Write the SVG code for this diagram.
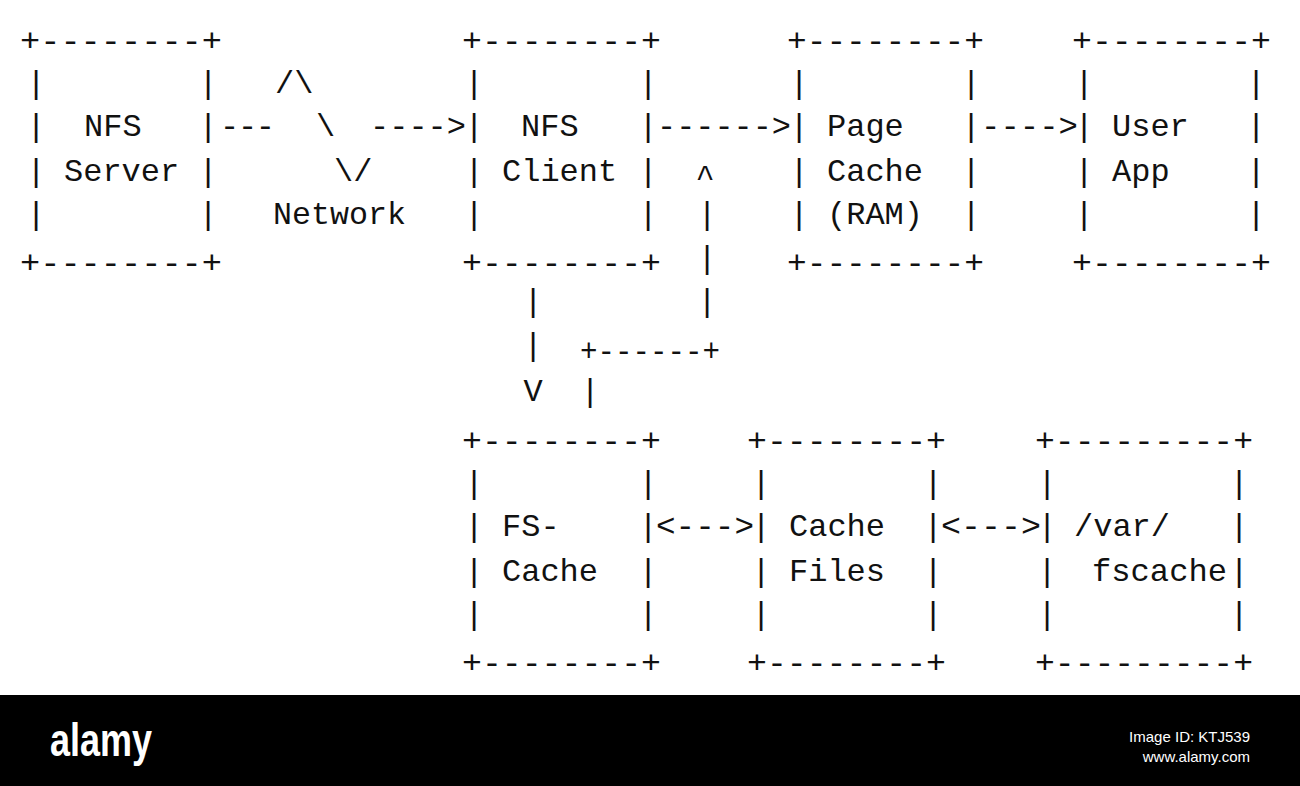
<svg xmlns="http://www.w3.org/2000/svg" width="1300" height="786" viewBox="0 0 1300 786">
<style>
text{font-family:"Liberation Mono","DejaVu Sans Mono",monospace;font-size:32px;fill:#111}
.c{text-anchor:middle}
.w{fill:#fff;font-family:"Liberation Sans",Arial,sans-serif}
</style>
<rect width="1300" height="786" fill="#fff"/>
<g id="nfs-server">
<text x="20" y="51" textLength="202" lengthAdjust="spacingAndGlyphs">+--------+</text>
<text x="20" y="273" textLength="202" lengthAdjust="spacingAndGlyphs">+--------+</text>
<text class="c" x="36" y="93">|</text><text class="c" x="36" y="136">|</text><text class="c" x="36" y="181">|</text><text class="c" x="36" y="224">|</text>
<text class="c" x="208" y="93">|</text><text class="c" x="208" y="136">|</text><text class="c" x="208" y="181">|</text><text class="c" x="208" y="224">|</text>
<text x="84" y="136">NFS</text><text x="64" y="181">Server</text>
</g>
<g id="nfs-client">
<text x="462" y="51" textLength="199" lengthAdjust="spacingAndGlyphs">+--------+</text>
<text x="462" y="273" textLength="199" lengthAdjust="spacingAndGlyphs">+--------+</text>
<text class="c" x="474" y="93">|</text><text class="c" x="474" y="136">|</text><text class="c" x="474" y="181">|</text><text class="c" x="474" y="224">|</text>
<text class="c" x="648" y="93">|</text><text class="c" x="648" y="136">|</text><text class="c" x="648" y="181">|</text><text class="c" x="648" y="224">|</text>
<text x="521" y="136">NFS</text><text x="502" y="181">Client</text>
</g>
<g id="page-cache">
<text x="787" y="51" textLength="197" lengthAdjust="spacingAndGlyphs">+--------+</text>
<text x="787" y="273" textLength="197" lengthAdjust="spacingAndGlyphs">+--------+</text>
<text class="c" x="799" y="93">|</text><text class="c" x="799" y="136">|</text><text class="c" x="799" y="181">|</text><text class="c" x="799" y="224">|</text>
<text class="c" x="971" y="93">|</text><text class="c" x="971" y="136">|</text><text class="c" x="971" y="181">|</text><text class="c" x="971" y="224">|</text>
<text x="827" y="136">Page</text><text x="827" y="181">Cache</text><text x="827" y="224">(RAM)</text>
</g>
<g id="user-app">
<text x="1072" y="51" textLength="199" lengthAdjust="spacingAndGlyphs">+--------+</text>
<text x="1072" y="273" textLength="199" lengthAdjust="spacingAndGlyphs">+--------+</text>
<text class="c" x="1084" y="93">|</text><text class="c" x="1084" y="136">|</text><text class="c" x="1084" y="181">|</text><text class="c" x="1084" y="224">|</text>
<text class="c" x="1256" y="93">|</text><text class="c" x="1256" y="136">|</text><text class="c" x="1256" y="181">|</text><text class="c" x="1256" y="224">|</text>
<text x="1112" y="136">User</text><text x="1112" y="181">App</text>
</g>
<g id="fs-cache">
<text x="462" y="451" textLength="199" lengthAdjust="spacingAndGlyphs">+--------+</text>
<text x="462" y="673" textLength="199" lengthAdjust="spacingAndGlyphs">+--------+</text>
<text class="c" x="474" y="493">|</text><text class="c" x="474" y="536">|</text><text class="c" x="474" y="581">|</text><text class="c" x="474" y="624">|</text>
<text class="c" x="648" y="493">|</text><text class="c" x="648" y="536">|</text><text class="c" x="648" y="581">|</text><text class="c" x="648" y="624">|</text>
<text x="502" y="536">FS-</text><text x="502" y="581">Cache</text>
</g>
<g id="cache-files">
<text x="747" y="451" textLength="199" lengthAdjust="spacingAndGlyphs">+--------+</text>
<text x="747" y="673" textLength="199" lengthAdjust="spacingAndGlyphs">+--------+</text>
<text class="c" x="761" y="493">|</text><text class="c" x="761" y="536">|</text><text class="c" x="761" y="581">|</text><text class="c" x="761" y="624">|</text>
<text class="c" x="933" y="493">|</text><text class="c" x="933" y="536">|</text><text class="c" x="933" y="581">|</text><text class="c" x="933" y="624">|</text>
<text x="789" y="536">Cache</text><text x="789" y="581">Files</text>
</g>
<g id="var-fscache">
<text x="1035" y="451" textLength="218" lengthAdjust="spacingAndGlyphs">+---------+</text>
<text x="1035" y="673" textLength="218" lengthAdjust="spacingAndGlyphs">+---------+</text>
<text class="c" x="1047" y="493">|</text><text class="c" x="1047" y="536">|</text><text class="c" x="1047" y="581">|</text><text class="c" x="1047" y="624">|</text>
<text class="c" x="1239" y="493">|</text><text class="c" x="1239" y="536">|</text><text class="c" x="1239" y="581">|</text><text class="c" x="1239" y="624">|</text>
<text x="1074" y="536">/var/</text><text x="1092" y="581" textLength="135" lengthAdjust="spacingAndGlyphs">fscache</text>
</g>
<g id="connectors">
<text x="275" y="93">/\</text>
<text x="220" y="136" textLength="55">---</text>
<text x="316" y="136">\</text>
<text x="370" y="136" textLength="96" lengthAdjust="spacingAndGlyphs">----&gt;</text>
<text x="334" y="181">\/</text>
<text x="273" y="224" textLength="133" lengthAdjust="spacingAndGlyphs">Network</text>
<text x="657" y="136" textLength="134" lengthAdjust="spacingAndGlyphs">------&gt;</text>
<text x="981" y="136" textLength="97" lengthAdjust="spacingAndGlyphs">----&gt;</text>
<text x="656" y="536" textLength="98" lengthAdjust="spacingAndGlyphs">&lt;---&gt;</text>
<text x="941" y="536" textLength="100" lengthAdjust="spacingAndGlyphs">&lt;---&gt;</text>
<text class="c" x="533" y="311">|</text><text class="c" x="533" y="355">|</text><text class="c" x="533" y="401">V</text>
<text class="c" x="705" y="187">^</text><text class="c" x="707" y="224">|</text><text class="c" x="707" y="268">|</text><text class="c" x="707" y="311">|</text>
<text x="580" y="361" textLength="140" lengthAdjust="spacingAndGlyphs">+------+</text>
<text class="c" x="590" y="401">|</text>
</g>
<rect x="0" y="695" width="1300" height="91" fill="#000"/>
<text class="w" x="50" y="756" textLength="102" lengthAdjust="spacingAndGlyphs" style="font-size:46px;font-weight:bold">alamy</text>
<text class="w" x="1250" y="742" text-anchor="end" style="font-size:15px">Image ID: KTJ539</text>
<text class="w" x="1250" y="762" text-anchor="end" style="font-size:15px">www.alamy.com</text>
</svg>
